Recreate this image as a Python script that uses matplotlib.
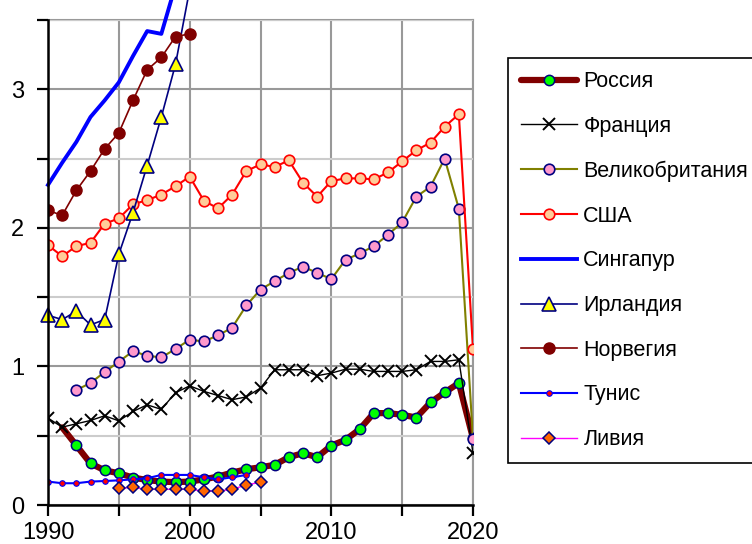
import matplotlib
matplotlib.use("Agg")
import matplotlib.pyplot as plt
from matplotlib.ticker import MultipleLocator

plt.rcParams["font.family"] = ["Liberation Sans", "DejaVu Sans"]
plt.rcParams["font.size"] = 17

# --- data: one value per year ---
years_rus = list(range(1991, 2021))
russia = [0.56, 0.43, 0.30, 0.25, 0.229, 0.198, 0.18, 0.169, 0.165,
          0.169, 0.185, 0.205, 0.234, 0.258, 0.272, 0.29, 0.345, 0.374, 0.345,
          0.429, 0.47, 0.547, 0.663, 0.663, 0.651, 0.631, 0.74, 0.812, 0.88,
          0.48]
years_all = list(range(1990, 2021))
france = [0.627, 0.562, 0.586, 0.61, 0.644, 0.607, 0.675, 0.723, 0.69, 0.81,
          0.86, 0.82, 0.79, 0.76, 0.78, 0.844, 0.976, 0.976, 0.976, 0.933,
          0.952, 0.98, 0.98, 0.964, 0.964, 0.964, 0.976, 1.036, 1.036, 1.048,
          0.374]
years_uk = list(range(1992, 2021))
uk = [0.83, 0.88, 0.96, 1.034, 1.11, 1.077, 1.065, 1.126, 1.193, 1.18,
      1.224, 1.28, 1.44, 1.555, 1.615, 1.675, 1.72, 1.675, 1.63, 1.77,
      1.815, 1.868, 1.95, 2.04, 2.225, 2.297, 2.50, 2.138, 0.475]
usa = [1.875, 1.795, 1.868, 1.892, 2.03, 2.068, 2.17, 2.20, 2.24, 2.30,
       2.37, 2.196, 2.14, 2.24, 2.41, 2.458, 2.44, 2.487, 2.326, 2.225,
       2.338, 2.357, 2.357, 2.35, 2.40, 2.48, 2.56, 2.615, 2.73, 2.82,
       1.126]
years_90s = list(range(1990, 2001))
singapore = [2.31, 2.47, 2.62, 2.80, 2.92, 3.05, 3.24, 3.42, 3.40, 3.75, 4.1]
ireland = [1.369, 1.338, 1.398, 1.30, 1.338, 1.81, 2.11, 2.45, 2.80, 3.18, 3.72]
norway = [2.126, 2.09, 2.27, 2.41, 2.57, 2.685, 2.92, 3.14, 3.23, 3.38, 3.40]
years_tun = list(range(1990, 2005))
tunisia = [0.169, 0.157, 0.157, 0.169, 0.173, 0.178, 0.185, 0.193, 0.217,
           0.217, 0.217, 0.20, 0.185, 0.20, 0.217]
years_lby = list(range(1995, 2006))
libya = [0.12, 0.127, 0.113, 0.113, 0.113, 0.113, 0.101, 0.101, 0.113,
         0.145, 0.164]

NAVY = "#000080"

fig = plt.figure(figsize=(7.52, 5.44), dpi=100)
ax = fig.add_axes([48 / 752, 1 - 505 / 544, 425 / 752, 485 / 544])

ax.plot(years_rus, russia, color="#800000", lw=4.5, marker="o", ms=7.4,
        mfc="#00ff00", mec=NAVY, mew=1.1, markevery=list(range(1, len(russia))),
        label="Россия", solid_capstyle="round", zorder=3)
ax.plot(years_all, france, color="black", lw=1.0, marker="x", ms=8.5, mew=1.4,
        label="Франция", zorder=3)
ax.plot(years_uk, uk, color="#808000", lw=1.5, marker="o", ms=7.6,
        mfc="#ff99cc", mec=NAVY, mew=1.2, label="Великобритания", zorder=3)
ax.plot(years_all, usa, color="#ff0000", lw=1.5, marker="o", ms=7.6,
        mfc="#ffcc99", mec="#ff0000", mew=1.2, label="США", zorder=3)
ax.plot(years_90s, singapore, color="#0000ff", lw=2.8, label="Сингапур",
        clip_on=False, zorder=3)
ax.plot(years_90s, ireland, color=NAVY, lw=1.2, marker="^", ms=9.5,
        mfc="#ffff00", mec=NAVY, mew=1.2, label="Ирландия", clip_on=False,
        zorder=3)
ax.plot(years_90s, norway, color="#800000", lw=1.2, marker="o", ms=8,
        mfc="#800000", mec="#800000", label="Норвегия", zorder=3)
ax.plot(years_tun, tunisia, color="#0000ff", lw=1.5, marker="o", ms=4,
        mfc="#ff0000", mec="#0000ff", mew=0.8, label="Тунис", zorder=3)
ax.plot(years_lby, libya, color="#ff00ff", lw=1.0, marker="D", ms=5.8,
        mfc="#ff6600", mec=NAVY, mew=1.1, label="Ливия", zorder=3)

ax.set_xlim(1990, 2020)
ax.set_ylim(0, 3.5)
ax.xaxis.set_major_locator(MultipleLocator(10))
ax.xaxis.set_minor_locator(MultipleLocator(5))
ax.yaxis.set_major_locator(MultipleLocator(1))
ax.yaxis.set_minor_locator(MultipleLocator(0.5))
ax.tick_params(which="both", direction="out", length=8, width=1.6,
               color="black", labelsize=17)
ax.tick_params(axis="y", pad=9)
ax.tick_params(axis="x", pad=4)

ax.grid(which="major", axis="y", color="#999999", lw=1.5)
ax.grid(which="minor", axis="y", color="#cccccc", lw=1.5)
ax.grid(which="both", axis="x", color="#999999", lw=1.5)
ax.set_axisbelow(True)

for side in ("left", "bottom"):
    ax.spines[side].set_color("black")
    ax.spines[side].set_linewidth(1.8)
    ax.spines[side].set_zorder(4)
for side in ("top", "right"):
    ax.spines[side].set_color("#999999")
    ax.spines[side].set_linewidth(1.5)
    ax.spines[side].set_zorder(0.5)

# legend box runs past the right edge of the figure
top = 1 - 58 / 544
leg = fig.legend(loc="upper left",
                 bbox_to_anchor=(508 / 752, top - 0.5, 262 / 752, 0.5),
                 mode="expand", borderaxespad=0, frameon=True, fancybox=False,
                 edgecolor="black", framealpha=1, numpoints=1,
                 handlelength=2.6, handletextpad=0.28, borderpad=0.62,
                 labelspacing=1.1, fontsize=15.5)
leg.get_frame().set_linewidth(1.2)

fig.savefig("out.png", dpi=100)
